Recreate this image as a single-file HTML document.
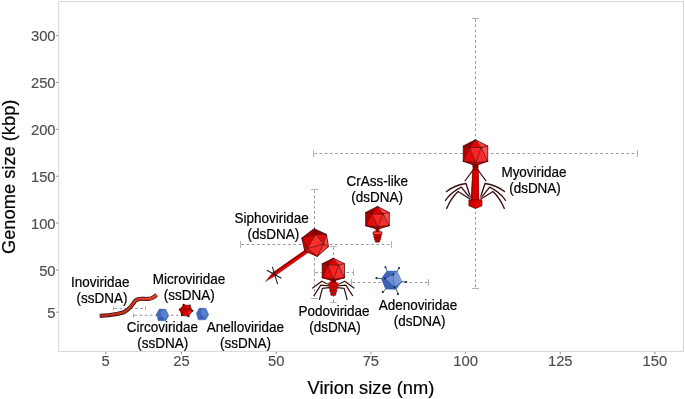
<!DOCTYPE html>
<html><head><meta charset="utf-8">
<style>
html,body{margin:0;padding:0;background:#fff;}
body{width:685px;height:399px;overflow:hidden;}
svg{display:block;will-change:transform;font-family:"Liberation Sans",sans-serif;}
.tk{font-size:14.8px;fill:#4d4d4d;stroke:#4d4d4d;stroke-width:0.15px;}
.ti{font-size:18.3px;fill:#000;stroke:#000;stroke-width:0.2px;}
.lb{font-size:13.5px;fill:#000;stroke:#000;stroke-width:0.2px;}
.eb{stroke:#b2b0b2;stroke-width:1.0;fill:none;}
.ed{stroke:#9a9a9a;stroke-width:1.0;fill:none;stroke-dasharray:2.7 2.5;stroke-dashoffset:-0.8;}
</style></head>
<body>
<svg width="685" height="399" viewBox="0 0 685 399">
<rect x="0" y="0" width="685" height="399" fill="#fff"/>
<rect x="58.7" y="1.5" width="624.8" height="349.9" fill="none" stroke="#d6d6d6" stroke-width="1"/>
<g stroke="#8a8a8a" stroke-width="1">
<line x1="56.2" x2="58.2" y1="35.65" y2="35.65"/>
<line x1="56.2" x2="58.2" y1="82.52" y2="82.52"/>
<line x1="56.2" x2="58.2" y1="129.39" y2="129.39"/>
<line x1="56.2" x2="58.2" y1="176.26" y2="176.26"/>
<line x1="56.2" x2="58.2" y1="223.13" y2="223.13"/>
<line x1="56.2" x2="58.2" y1="270.00" y2="270.00"/>
<line x1="56.2" x2="58.2" y1="312.18" y2="312.18"/>
<line y1="352" y2="354" x1="105.70" x2="105.70"/>
<line y1="352" y2="354" x1="181.46" x2="181.46"/>
<line y1="352" y2="354" x1="276.16" x2="276.16"/>
<line y1="352" y2="354" x1="370.86" x2="370.86"/>
<line y1="352" y2="354" x1="465.56" x2="465.56"/>
<line y1="352" y2="354" x1="560.26" x2="560.26"/>
<line y1="352" y2="354" x1="654.96" x2="654.96"/>
</g>
<text class="tk" transform="translate(55.60 41.30) scale(1 1.03)" text-anchor="end">300</text>
<text class="tk" transform="translate(55.60 88.17) scale(1 1.03)" text-anchor="end">250</text>
<text class="tk" transform="translate(55.60 135.04) scale(1 1.03)" text-anchor="end">200</text>
<text class="tk" transform="translate(55.60 181.91) scale(1 1.03)" text-anchor="end">150</text>
<text class="tk" transform="translate(55.60 228.78) scale(1 1.03)" text-anchor="end">100</text>
<text class="tk" transform="translate(55.60 275.65) scale(1 1.03)" text-anchor="end">50</text>
<text class="tk" transform="translate(55.60 317.83) scale(1 1.03)" text-anchor="end">5</text>
<text class="tk" transform="translate(105.70 365.60) scale(1 1.03)" text-anchor="middle">5</text>
<text class="tk" transform="translate(181.46 365.60) scale(1 1.03)" text-anchor="middle">25</text>
<text class="tk" transform="translate(276.16 365.60) scale(1 1.03)" text-anchor="middle">50</text>
<text class="tk" transform="translate(370.86 365.60) scale(1 1.03)" text-anchor="middle">75</text>
<text class="tk" transform="translate(465.56 365.60) scale(1 1.03)" text-anchor="middle">100</text>
<text class="tk" transform="translate(560.26 365.60) scale(1 1.03)" text-anchor="middle">125</text>
<text class="tk" transform="translate(654.96 365.60) scale(1 1.03)" text-anchor="middle">150</text>
<text class="ti" transform="translate(370.90 394.20) scale(1 1.02)" text-anchor="middle">Virion size (nm)</text>
<text class="ti" transform="translate(15.00 176.80) rotate(-90) scale(1 1.02)" text-anchor="middle">Genome size (kbp)</text>
<line class="ed" x1="313.5" x2="637.5" y1="153.5" y2="153.5"/>
<line class="eb" x1="313.5" x2="313.5" y1="150.10" y2="156.90"/>
<line class="eb" x1="637.5" x2="637.5" y1="150.10" y2="156.90"/>
<line class="ed" x1="475.5" x2="475.5" y1="18.5" y2="288.5"/>
<line class="eb" x1="472.00" x2="479.00" y1="18.5" y2="18.5"/>
<line class="eb" x1="472.00" x2="479.00" y1="288.5" y2="288.5"/>
<line class="ed" x1="240.5" x2="391.5" y1="244.5" y2="244.5"/>
<line class="eb" x1="240.5" x2="240.5" y1="241.10" y2="247.90"/>
<line class="eb" x1="391.5" x2="391.5" y1="241.10" y2="247.90"/>
<line class="ed" x1="314.5" x2="314.5" y1="189.5" y2="298.5"/>
<line class="eb" x1="311.00" x2="318.00" y1="189.5" y2="189.5"/>
<line class="eb" x1="311.00" x2="318.00" y1="298.5" y2="298.5"/>
<line class="ed" x1="314.5" x2="353.5" y1="272.5" y2="272.5"/>
<line class="eb" x1="314.5" x2="314.5" y1="269.20" y2="275.80"/>
<line class="eb" x1="353.5" x2="353.5" y1="269.20" y2="275.80"/>
<line class="ed" x1="333.5" x2="333.5" y1="246.5" y2="302.5"/>
<line class="eb" x1="330.30" x2="336.70" y1="246.5" y2="246.5"/>
<line class="eb" x1="330.30" x2="336.70" y1="302.5" y2="302.5"/>
<line class="ed" x1="351.5" x2="428.5" y1="282.5" y2="282.5"/>
<line class="eb" x1="351.5" x2="351.5" y1="279.10" y2="285.90"/>
<line class="eb" x1="428.5" x2="428.5" y1="279.10" y2="285.90"/>
<line class="ed" x1="113.5" x2="145.5" y1="308.5" y2="308.5"/>
<line class="eb" x1="113.5" x2="113.5" y1="306.40" y2="310.60"/>
<line class="eb" x1="145.5" x2="145.5" y1="306.40" y2="310.60"/>
<line class="ed" x1="133.5" x2="185.0" y1="315.3" y2="315.3"/>
<line class="eb" x1="133.5" x2="133.5" y1="313.10" y2="317.50"/>
<path d="M99.80,315.90 C101.50,315.75 106.97,315.37 110.00,315.00 C113.03,314.63 115.83,314.12 118.00,313.70 C120.17,313.28 121.63,313.00 123.00,312.50 C124.37,312.00 125.10,311.47 126.20,310.70 C127.30,309.93 128.48,309.02 129.60,307.90 C130.72,306.78 131.90,305.22 132.90,304.00 C133.90,302.78 134.72,301.40 135.60,300.60 C136.48,299.80 137.22,299.50 138.20,299.20 C139.18,298.90 139.87,298.85 141.50,298.80 C143.13,298.75 146.25,299.03 148.00,298.90 C149.75,298.77 150.57,298.67 152.00,298.00 C153.43,297.33 155.83,295.42 156.60,294.90" stroke="#2a0c08" stroke-width="4.1" fill="none" stroke-linecap="butt"/>
<defs><linearGradient id="inog" gradientUnits="userSpaceOnUse" x1="100" y1="0" x2="157" y2="0"><stop offset="0" stop-color="#9c2014"/><stop offset="0.5" stop-color="#bf2c1c"/><stop offset="1" stop-color="#e03a28"/></linearGradient></defs>
<path d="M99.80,315.90 C101.50,315.75 106.97,315.37 110.00,315.00 C113.03,314.63 115.83,314.12 118.00,313.70 C120.17,313.28 121.63,313.00 123.00,312.50 C124.37,312.00 125.10,311.47 126.20,310.70 C127.30,309.93 128.48,309.02 129.60,307.90 C130.72,306.78 131.90,305.22 132.90,304.00 C133.90,302.78 134.72,301.40 135.60,300.60 C136.48,299.80 137.22,299.50 138.20,299.20 C139.18,298.90 139.87,298.85 141.50,298.80 C143.13,298.75 146.25,299.03 148.00,298.90 C149.75,298.77 150.57,298.67 152.00,298.00 C153.43,297.33 155.83,295.42 156.60,294.90" stroke="url(#inog)" stroke-width="2.7" fill="none" stroke-linecap="butt"/>
<path d="M99.80,315.90 C101.50,315.75 106.97,315.37 110.00,315.00 C113.03,314.63 115.83,314.12 118.00,313.70 C120.17,313.28 121.63,313.00 123.00,312.50 C124.37,312.00 125.10,311.47 126.20,310.70 C127.30,309.93 128.48,309.02 129.60,307.90 C130.72,306.78 131.90,305.22 132.90,304.00 C133.90,302.78 134.72,301.40 135.60,300.60 C136.48,299.80 137.22,299.50 138.20,299.20 C139.18,298.90 139.87,298.85 141.50,298.80 C143.13,298.75 146.25,299.03 148.00,298.90 C149.75,298.77 150.57,298.67 152.00,298.00 C153.43,297.33 155.83,295.42 156.60,294.90" stroke="#ee5a44" stroke-opacity="0.55" stroke-width="0.8" fill="none" transform="translate(0,-0.4)"/>
<polygon points="159.30,309.00 165.90,309.30 168.70,315.70 165.60,320.70 158.30,320.70 156.40,314.30" fill="#4068bf" stroke="#3a5fb0" stroke-width="0.5" stroke-linejoin="round"/><polygon points="160.80,311.50 165.90,309.80 167.80,315.50 164.80,319.50 161.50,316.00" fill="#6288cf" opacity="0.75"/><polygon points="161.50,316.00 164.80,319.50 158.80,320.20" fill="#3559a8" opacity="0.6"/>
<polygon points="199.30,308.10 205.90,308.40 208.70,314.80 205.60,319.80 198.30,319.80 196.40,313.40" fill="#4068bf" stroke="#3a5fb0" stroke-width="0.5" stroke-linejoin="round"/><polygon points="200.80,310.60 205.90,308.90 207.80,314.60 204.80,318.60 201.50,315.10" fill="#6288cf" opacity="0.75"/><polygon points="201.50,315.10 204.80,318.60 198.80,319.30" fill="#3559a8" opacity="0.6"/>
<polygon points="183.60,304.70 189.80,305.50 192.40,310.80 188.60,316.30 181.80,315.20 179.70,309.50" fill="#e10000" stroke="#5a0000" stroke-width="0.6" stroke-linejoin="round"/><polygon points="179.70,309.50 183.60,304.70 184.80,308.90 181.80,315.20" fill="#c60000"/><polygon points="186.30,310.90 192.40,310.80 188.60,316.30" fill="#f21a1a"/><path d="M184.8,308.9 L183.60000000000002,304.7 M184.8,308.9 L181.8,315.2 M184.8,308.9 L189.3,308.4 L189.8,305.5 M189.3,308.4 L187.3,312.9 L184.8,308.9 M187.3,312.9 L188.60000000000002,316.29999999999995 M189.3,308.4 L192.4,310.79999999999995" stroke="#4a0000" stroke-width="0.45" fill="none"/><circle cx="183.60" cy="304.70" r="0.95" fill="#2a0000"/><circle cx="189.80" cy="305.50" r="0.95" fill="#2a0000"/><circle cx="192.40" cy="310.80" r="0.95" fill="#2a0000"/><circle cx="188.60" cy="316.30" r="0.95" fill="#2a0000"/><circle cx="181.80" cy="315.20" r="0.95" fill="#2a0000"/><circle cx="179.70" cy="309.50" r="0.95" fill="#2a0000"/>
<line x1="381.3" y1="278.7" x2="376.4" y2="278.1" stroke="#1c2a55" stroke-width="0.8"/><line x1="387.1" y1="271.1" x2="385.5" y2="267.2" stroke="#1c2a55" stroke-width="0.8"/><line x1="397.1" y1="271.1" x2="399.1" y2="268.0" stroke="#1c2a55" stroke-width="0.8"/><line x1="401.8" y1="281.6" x2="406.1" y2="282.0" stroke="#1c2a55" stroke-width="0.8"/><line x1="396.2" y1="289.2" x2="398.0" y2="293.9" stroke="#1c2a55" stroke-width="0.8"/><line x1="385.7" y1="289.0" x2="382.8" y2="292.1" stroke="#1c2a55" stroke-width="0.8"/><polygon points="381.30,278.70 387.10,271.10 397.10,271.10 401.80,281.60 396.20,289.20 385.70,289.00" fill="#4a72c2" stroke="#3c62b0" stroke-width="0.5" stroke-linejoin="round"/><polygon points="393.30,274.60 397.10,271.10 401.80,281.60 394.50,287.10" fill="#7b9bd6"/><polygon points="393.30,274.60 385.10,278.50 394.50,287.10" fill="#6a8cd0"/><polygon points="381.30,278.70 387.10,271.10 393.30,274.60 385.10,278.50" fill="#3c64b8"/><polygon points="381.30,278.70 385.10,278.50 394.50,287.10 385.70,289.00" fill="#3d62b4"/><polygon points="385.70,289.00 394.50,287.10 396.20,289.20" fill="#3559a8"/><path d="M393.3,274.6 L385.1,278.5 L394.5,287.1 Z M393.3,274.6 L397.1,271.1 M394.5,287.1 L401.8,281.6" stroke="#34569f" stroke-width="0.4" fill="none"/><circle cx="376.4" cy="278.1" r="1.05" fill="#14203f"/><circle cx="385.5" cy="267.2" r="1.05" fill="#14203f"/><circle cx="399.1" cy="268.0" r="1.05" fill="#14203f"/><circle cx="406.1" cy="282.0" r="1.05" fill="#14203f"/><circle cx="398.0" cy="293.9" r="1.05" fill="#14203f"/><circle cx="382.8" cy="292.1" r="1.05" fill="#14203f"/><circle cx="393.3" cy="274.6" r="1.0" fill="#14203f"/><circle cx="385.1" cy="278.5" r="1.0" fill="#14203f"/><circle cx="394.5" cy="287.1" r="1.0" fill="#14203f"/>
<polygon points="309.29,251.76 307.11,248.64 272.31,273.04 274.49,276.16" fill="#cf0000" stroke="#5a0000" stroke-width="0.35"/><polygon points="307.80,249.63 307.11,248.64 272.31,273.04 273.00,274.03" fill="#940000"/><polygon points="309.12,251.51 308.60,250.77 273.80,275.17 274.32,275.91" fill="#e81c1c"/><polygon points="274.49,276.16 272.31,273.04 265.40,281.60" fill="#c40000" stroke="#5a0000" stroke-width="0.3"/><path d="M266.8,270.2 L281.4,278.3 M272.4,266.9 L277.6,284.1" stroke="#1a1a1a" stroke-width="1.05" fill="none"/><polygon points="314.10,228.70 301.80,238.00 315.60,234.60" fill="#a00000" stroke="#a00000" stroke-width="0.3"/><polygon points="314.10,228.70 315.60,234.60 326.40,234.40" fill="#8e0000" stroke="#8e0000" stroke-width="0.3"/><polygon points="301.80,238.00 315.60,234.60 307.50,248.50" fill="#d40000" stroke="#d40000" stroke-width="0.3"/><polygon points="315.60,234.60 326.40,234.40 323.50,244.00" fill="#e01010" stroke="#e01010" stroke-width="0.3"/><polygon points="326.40,234.40 328.50,246.60 323.50,244.00" fill="#ff4444" stroke="#ff4444" stroke-width="0.3"/><polygon points="323.50,244.00 328.50,246.60 317.40,256.50" fill="#ff3c3c" stroke="#ff3c3c" stroke-width="0.3"/><polygon points="315.60,234.60 323.50,244.00 307.50,248.50" fill="#ff2e2e" stroke="#ff2e2e" stroke-width="0.3"/><polygon points="307.50,248.50 323.50,244.00 317.40,256.50" fill="#f42a2a" stroke="#f42a2a" stroke-width="0.3"/><polygon points="304.80,251.10 307.50,248.50 317.40,256.50" fill="#e00c0c" stroke="#e00c0c" stroke-width="0.3"/><polygon points="301.80,238.00 307.50,248.50 304.80,251.10" fill="#c80000" stroke="#c80000" stroke-width="0.3"/><path d="M314.1,228.7L315.6,234.6 M315.6,234.6L301.8,238.0 M315.6,234.6L326.4,234.4 M315.6,234.6L323.5,244.0 M315.6,234.6L307.5,248.5 M323.5,244.0L307.5,248.5 M323.5,244.0L326.4,234.4 M323.5,244.0L328.5,246.6 M323.5,244.0L317.4,256.5 M307.5,248.5L317.4,256.5 M307.5,248.5L304.8,251.1 M307.5,248.5L301.8,238.0" stroke="#3a0000" stroke-width="0.6" fill="none"/><polygon points="314.10,228.70 326.40,234.40 328.50,246.60 317.40,256.50 304.80,251.10 301.80,238.00" fill="none" stroke="#3a0000" stroke-width="0.7" stroke-linejoin="round"/>
<path d="M328.00,284.20 L321.80,281.20 L312.70,288.10" stroke="#fff" stroke-opacity="0.8" stroke-width="2.2" fill="none" stroke-linejoin="round" stroke-linecap="round"/><path d="M328.00,284.20 L321.80,281.20 L312.70,288.10" stroke="#3a0e0e" stroke-width="1.2" fill="none" stroke-linejoin="round" stroke-linecap="round"/><path d="M338.60,284.20 L344.80,281.20 L353.90,288.10" stroke="#fff" stroke-opacity="0.8" stroke-width="2.2" fill="none" stroke-linejoin="round" stroke-linecap="round"/><path d="M338.60,284.20 L344.80,281.20 L353.90,288.10" stroke="#3a0e0e" stroke-width="1.2" fill="none" stroke-linejoin="round" stroke-linecap="round"/><path d="M328.60,285.80 L320.80,285.10 L314.00,295.60" stroke="#fff" stroke-opacity="0.8" stroke-width="2.2" fill="none" stroke-linejoin="round" stroke-linecap="round"/><path d="M328.60,285.80 L320.80,285.10 L314.00,295.60" stroke="#3a0e0e" stroke-width="1.2" fill="none" stroke-linejoin="round" stroke-linecap="round"/><path d="M338.00,285.80 L345.80,285.10 L352.60,295.60" stroke="#fff" stroke-opacity="0.8" stroke-width="2.2" fill="none" stroke-linejoin="round" stroke-linecap="round"/><path d="M338.00,285.80 L345.80,285.10 L352.60,295.60" stroke="#3a0e0e" stroke-width="1.2" fill="none" stroke-linejoin="round" stroke-linecap="round"/><path d="M329.30,287.60 L322.40,288.40 L319.50,299.50" stroke="#fff" stroke-opacity="0.8" stroke-width="2.2" fill="none" stroke-linejoin="round" stroke-linecap="round"/><path d="M329.30,287.60 L322.40,288.40 L319.50,299.50" stroke="#3a0e0e" stroke-width="1.2" fill="none" stroke-linejoin="round" stroke-linecap="round"/><path d="M337.30,287.60 L344.20,288.40 L347.10,299.50" stroke="#fff" stroke-opacity="0.8" stroke-width="2.2" fill="none" stroke-linejoin="round" stroke-linecap="round"/><path d="M337.30,287.60 L344.20,288.40 L347.10,299.50" stroke="#3a0e0e" stroke-width="1.2" fill="none" stroke-linejoin="round" stroke-linecap="round"/><rect x="330.5" y="279.5" width="5.6" height="3.5" fill="#b80000"/><rect x="328.5" y="282.6" width="9.6" height="4.0" rx="1.2" fill="#e00000" stroke="#4a0000" stroke-width="0.45"/><rect x="329.3" y="286.4" width="8.0" height="3.2" rx="1.2" fill="#d80000" stroke="#4a0000" stroke-width="0.45"/><rect x="329.8" y="289.4" width="7.0" height="3.2" rx="1.2" fill="#d00000" stroke="#4a0000" stroke-width="0.45"/><rect x="330.5" y="292.4" width="5.6" height="3.2" rx="1.5" fill="#c80000" stroke="#4a0000" stroke-width="0.45"/><polygon points="333.40,258.20 322.25,263.76 328.16,265.24" fill="#960000" stroke="#960000" stroke-width="0.3"/>
<polygon points="333.40,258.20 328.16,265.24 338.64,265.24" fill="#e30000" stroke="#e30000" stroke-width="0.3"/>
<polygon points="333.40,258.20 338.64,265.24 344.55,263.76" fill="#ff4040" stroke="#ff4040" stroke-width="0.3"/>
<polygon points="322.25,263.76 328.16,265.24 322.25,277.72" fill="#b60000" stroke="#b60000" stroke-width="0.3"/>
<polygon points="328.16,265.24 322.25,277.72 333.62,279.31" fill="#e60a0a" stroke="#e60a0a" stroke-width="0.3"/>
<polygon points="328.16,265.24 338.64,265.24 333.62,279.31" fill="#ff2424" stroke="#ff2424" stroke-width="0.3"/>
<polygon points="338.64,265.24 333.62,279.31 344.55,277.72" fill="#f52c2c" stroke="#f52c2c" stroke-width="0.3"/>
<polygon points="338.64,265.24 344.55,263.76 344.55,277.72" fill="#ff4c4c" stroke="#ff4c4c" stroke-width="0.3"/>
<polygon points="322.25,277.72 333.62,279.31 333.40,280.90" fill="#b40000" stroke="#b40000" stroke-width="0.3"/>
<polygon points="333.62,279.31 333.40,280.90 344.55,277.72" fill="#d80000" stroke="#d80000" stroke-width="0.3"/>
<path d="M333.40,258.20L328.16,265.24 M333.40,258.20L338.64,265.24 M328.16,265.24L338.64,265.24 M322.25,263.76L328.16,265.24 M328.16,265.24L322.25,277.72 M328.16,265.24L333.62,279.31 M338.64,265.24L333.62,279.31 M338.64,265.24L344.55,263.76 M338.64,265.24L344.55,277.72 M322.25,277.72L333.62,279.31 M333.62,279.31L344.55,277.72 M333.62,279.31L333.40,280.90" stroke="#3a0000" stroke-width="0.6" fill="none" stroke-linecap="round"/>
<polygon points="333.40,258.20 344.55,263.76 344.55,277.72 333.40,280.90 322.25,277.72 322.25,263.76" fill="none" stroke="#3a0000" stroke-width="0.7" stroke-linejoin="round"/>
<rect x="375.5" y="228.5" width="4" height="3.5" fill="#b00000"/><rect x="372.9" y="231.4" width="9.2" height="3.8" rx="1.3" fill="#e01010" stroke="#4a0000" stroke-width="0.45"/><rect x="373.9" y="232.6" width="7.2" height="1.2" fill="#ff5a4a"/><rect x="373.7" y="235.1" width="7.6" height="2.9" rx="1.2" fill="#d00000" stroke="#4a0000" stroke-width="0.45"/><rect x="374.3" y="237.9" width="6.4" height="2.6" rx="1.2" fill="#c80000" stroke="#4a0000" stroke-width="0.45"/><rect x="375.1" y="240.3" width="4.8" height="2.0" rx="1.0" fill="#b80000" stroke="#4a0000" stroke-width="0.45"/><polygon points="377.50,206.40 365.70,212.56 371.95,213.92" fill="#960000" stroke="#960000" stroke-width="0.3"/>
<polygon points="377.50,206.40 371.95,213.92 383.05,213.92" fill="#e30000" stroke="#e30000" stroke-width="0.3"/>
<polygon points="377.50,206.40 383.05,213.92 389.30,212.56" fill="#ff4040" stroke="#ff4040" stroke-width="0.3"/>
<polygon points="365.70,212.56 371.95,213.92 365.70,225.67" fill="#b60000" stroke="#b60000" stroke-width="0.3"/>
<polygon points="371.95,213.92 365.70,225.67 377.74,226.92" fill="#e60a0a" stroke="#e60a0a" stroke-width="0.3"/>
<polygon points="371.95,213.92 383.05,213.92 377.74,226.92" fill="#ff2424" stroke="#ff2424" stroke-width="0.3"/>
<polygon points="383.05,213.92 377.74,226.92 389.30,225.67" fill="#f52c2c" stroke="#f52c2c" stroke-width="0.3"/>
<polygon points="383.05,213.92 389.30,212.56 389.30,225.67" fill="#ff4c4c" stroke="#ff4c4c" stroke-width="0.3"/>
<polygon points="365.70,225.67 377.74,226.92 377.50,229.20" fill="#b40000" stroke="#b40000" stroke-width="0.3"/>
<polygon points="377.74,226.92 377.50,229.20 389.30,225.67" fill="#d80000" stroke="#d80000" stroke-width="0.3"/>
<path d="M377.50,206.40L371.95,213.92 M377.50,206.40L383.05,213.92 M371.95,213.92L383.05,213.92 M365.70,212.56L371.95,213.92 M371.95,213.92L365.70,225.67 M371.95,213.92L377.74,226.92 M383.05,213.92L377.74,226.92 M383.05,213.92L389.30,212.56 M383.05,213.92L389.30,225.67 M365.70,225.67L377.74,226.92 M377.74,226.92L389.30,225.67 M377.74,226.92L377.50,229.20" stroke="#3a0000" stroke-width="0.6" fill="none" stroke-linecap="round"/>
<polygon points="377.50,206.40 389.30,212.56 389.30,225.67 377.50,229.20 365.70,225.67 365.70,212.56" fill="none" stroke="#3a0000" stroke-width="0.7" stroke-linejoin="round"/>
<path d="M472.80,170.40 L465.00,180.80" stroke="#3a0e0e" stroke-width="1.1" fill="none" stroke-linejoin="round" stroke-linecap="round"/><path d="M478.20,170.40 L486.00,180.80" stroke="#3a0e0e" stroke-width="1.1" fill="none" stroke-linejoin="round" stroke-linecap="round"/><path d="M470.60,197.70 L466.00,183.50 Q455.00,185.00 446.50,191.50" stroke="#fff" stroke-opacity="0.8" stroke-width="2.35" fill="none" stroke-linejoin="round" stroke-linecap="round"/><path d="M470.60,197.70 L466.00,183.50 Q455.00,185.00 446.50,191.50" stroke="#3a0e0e" stroke-width="1.35" fill="none" stroke-linejoin="round" stroke-linecap="round"/><path d="M480.40,197.70 L485.00,183.50 Q496.00,185.00 504.50,191.50" stroke="#fff" stroke-opacity="0.8" stroke-width="2.35" fill="none" stroke-linejoin="round" stroke-linecap="round"/><path d="M480.40,197.70 L485.00,183.50 Q496.00,185.00 504.50,191.50" stroke="#3a0e0e" stroke-width="1.35" fill="none" stroke-linejoin="round" stroke-linecap="round"/><path d="M470.20,198.20 L461.30,187.10 Q451.00,192.00 445.40,200.50" stroke="#fff" stroke-opacity="0.8" stroke-width="2.35" fill="none" stroke-linejoin="round" stroke-linecap="round"/><path d="M470.20,198.20 L461.30,187.10 Q451.00,192.00 445.40,200.50" stroke="#3a0e0e" stroke-width="1.35" fill="none" stroke-linejoin="round" stroke-linecap="round"/><path d="M480.80,198.20 L489.70,187.10 Q500.00,192.00 505.60,200.50" stroke="#fff" stroke-opacity="0.8" stroke-width="2.35" fill="none" stroke-linejoin="round" stroke-linecap="round"/><path d="M480.80,198.20 L489.70,187.10 Q500.00,192.00 505.60,200.50" stroke="#3a0e0e" stroke-width="1.35" fill="none" stroke-linejoin="round" stroke-linecap="round"/><path d="M469.70,198.70 L458.10,191.50 Q451.00,198.00 446.70,208.40" stroke="#fff" stroke-opacity="0.8" stroke-width="2.35" fill="none" stroke-linejoin="round" stroke-linecap="round"/><path d="M469.70,198.70 L458.10,191.50 Q451.00,198.00 446.70,208.40" stroke="#3a0e0e" stroke-width="1.35" fill="none" stroke-linejoin="round" stroke-linecap="round"/><path d="M481.30,198.70 L492.90,191.50 Q500.00,198.00 504.30,208.40" stroke="#fff" stroke-opacity="0.8" stroke-width="2.35" fill="none" stroke-linejoin="round" stroke-linecap="round"/><path d="M481.30,198.70 L492.90,191.50 Q500.00,198.00 504.30,208.40" stroke="#3a0e0e" stroke-width="1.35" fill="none" stroke-linejoin="round" stroke-linecap="round"/><polygon points="472.6,169.5 478.4,169.5 478.9,200.2 471.0,200.2" fill="#dc0000" stroke="#5a0000" stroke-width="0.4"/><polygon points="472.6,169.5 473.8,169.5 472.6,200.2 471.0,200.2" fill="#a80000"/><polygon points="476.8,169.5 478.4,169.5 478.9,200.2 476.8,200.2" fill="#b80000"/><polygon points="472.6,164.5 478.4,164.5 478.0,170.0 473.0,170.0" fill="#a00000" stroke="#4a0000" stroke-width="0.4"/><path d="M473,167.2 L478,167.2" stroke="#4a0000" stroke-width="0.5"/><polygon points="468.9,199.8 481.9,199.8 481.9,205.8 475.4,208.5 468.9,205.8" fill="#d00000" stroke="#5a0000" stroke-width="0.4"/><polygon points="475.4,199.8 481.9,199.8 481.9,205.8 475.4,208.5" fill="#e20000"/><polygon points="468.9,199.8 481.9,199.8 481.9,205.8 475.4,208.5 468.9,205.8" fill="none" stroke="#5a0000" stroke-width="0.4"/><polygon points="475.50,139.80 463.30,145.99 469.77,147.54" fill="#960000" stroke="#960000" stroke-width="0.3"/>
<polygon points="475.50,139.80 469.77,147.54 481.23,147.54" fill="#e30000" stroke="#e30000" stroke-width="0.3"/>
<polygon points="475.50,139.80 481.23,147.54 487.70,145.99" fill="#ff4040" stroke="#ff4040" stroke-width="0.3"/>
<polygon points="463.30,145.99 469.77,147.54 463.30,161.34" fill="#b60000" stroke="#b60000" stroke-width="0.3"/>
<polygon points="469.77,147.54 463.30,161.34 475.74,162.63" fill="#e60a0a" stroke="#e60a0a" stroke-width="0.3"/>
<polygon points="469.77,147.54 481.23,147.54 475.74,162.63" fill="#ff2424" stroke="#ff2424" stroke-width="0.3"/>
<polygon points="481.23,147.54 475.74,162.63 487.70,161.34" fill="#f52c2c" stroke="#f52c2c" stroke-width="0.3"/>
<polygon points="481.23,147.54 487.70,145.99 487.70,161.34" fill="#ff4c4c" stroke="#ff4c4c" stroke-width="0.3"/>
<polygon points="463.30,161.34 475.74,162.63 475.50,165.60" fill="#b40000" stroke="#b40000" stroke-width="0.3"/>
<polygon points="475.74,162.63 475.50,165.60 487.70,161.34" fill="#d80000" stroke="#d80000" stroke-width="0.3"/>
<path d="M475.50,139.80L469.77,147.54 M475.50,139.80L481.23,147.54 M469.77,147.54L481.23,147.54 M463.30,145.99L469.77,147.54 M469.77,147.54L463.30,161.34 M469.77,147.54L475.74,162.63 M481.23,147.54L475.74,162.63 M481.23,147.54L487.70,145.99 M481.23,147.54L487.70,161.34 M463.30,161.34L475.74,162.63 M475.74,162.63L487.70,161.34 M475.74,162.63L475.50,165.60" stroke="#3a0000" stroke-width="0.6" fill="none" stroke-linecap="round"/>
<polygon points="475.50,139.80 487.70,145.99 487.70,161.34 475.50,165.60 463.30,161.34 463.30,145.99" fill="none" stroke="#3a0000" stroke-width="0.7" stroke-linejoin="round"/>
<text class="lb" transform="translate(100.20 287.30) scale(1 1.035)" text-anchor="middle">Inoviridae</text>
<text class="lb" transform="translate(101.90 302.80) scale(1 1.035)" text-anchor="middle">(ssDNA)</text>
<text class="lb" transform="translate(189.00 283.60) scale(1 1.035)" text-anchor="middle">Microviridae</text>
<text class="lb" transform="translate(189.20 299.90) scale(1 1.035)" text-anchor="middle">(ssDNA)</text>
<text class="lb" transform="translate(162.40 332.00) scale(1 1.035)" text-anchor="middle">Circoviridae</text>
<text class="lb" transform="translate(162.70 347.50) scale(1 1.035)" text-anchor="middle">(ssDNA)</text>
<text class="lb" transform="translate(245.40 331.80) scale(1 1.035)" text-anchor="middle">Anelloviridae</text>
<text class="lb" transform="translate(245.50 347.90) scale(1 1.035)" text-anchor="middle">(ssDNA)</text>
<text class="lb" transform="translate(271.60 223.20) scale(1 1.035)" text-anchor="middle">Siphoviridae</text>
<text class="lb" transform="translate(273.40 239.30) scale(1 1.035)" text-anchor="middle">(dsDNA)</text>
<text class="lb" transform="translate(377.20 185.70) scale(1 1.035)" text-anchor="middle">CrAss-like</text>
<text class="lb" transform="translate(377.20 202.00) scale(1 1.035)" text-anchor="middle">(dsDNA)</text>
<text class="lb" transform="translate(334.00 315.50) scale(1 1.035)" text-anchor="middle">Podoviridae</text>
<text class="lb" transform="translate(335.00 332.10) scale(1 1.035)" text-anchor="middle">(dsDNA)</text>
<text class="lb" transform="translate(418.00 309.80) scale(1 1.035)" text-anchor="middle">Adenoviridae</text>
<text class="lb" transform="translate(419.60 326.00) scale(1 1.035)" text-anchor="middle">(dsDNA)</text>
<text class="lb" transform="translate(534.00 176.60) scale(1 1.035)" text-anchor="middle">Myoviridae</text>
<text class="lb" transform="translate(535.00 192.50) scale(1 1.035)" text-anchor="middle">(dsDNA)</text>
</svg>
</body></html>
